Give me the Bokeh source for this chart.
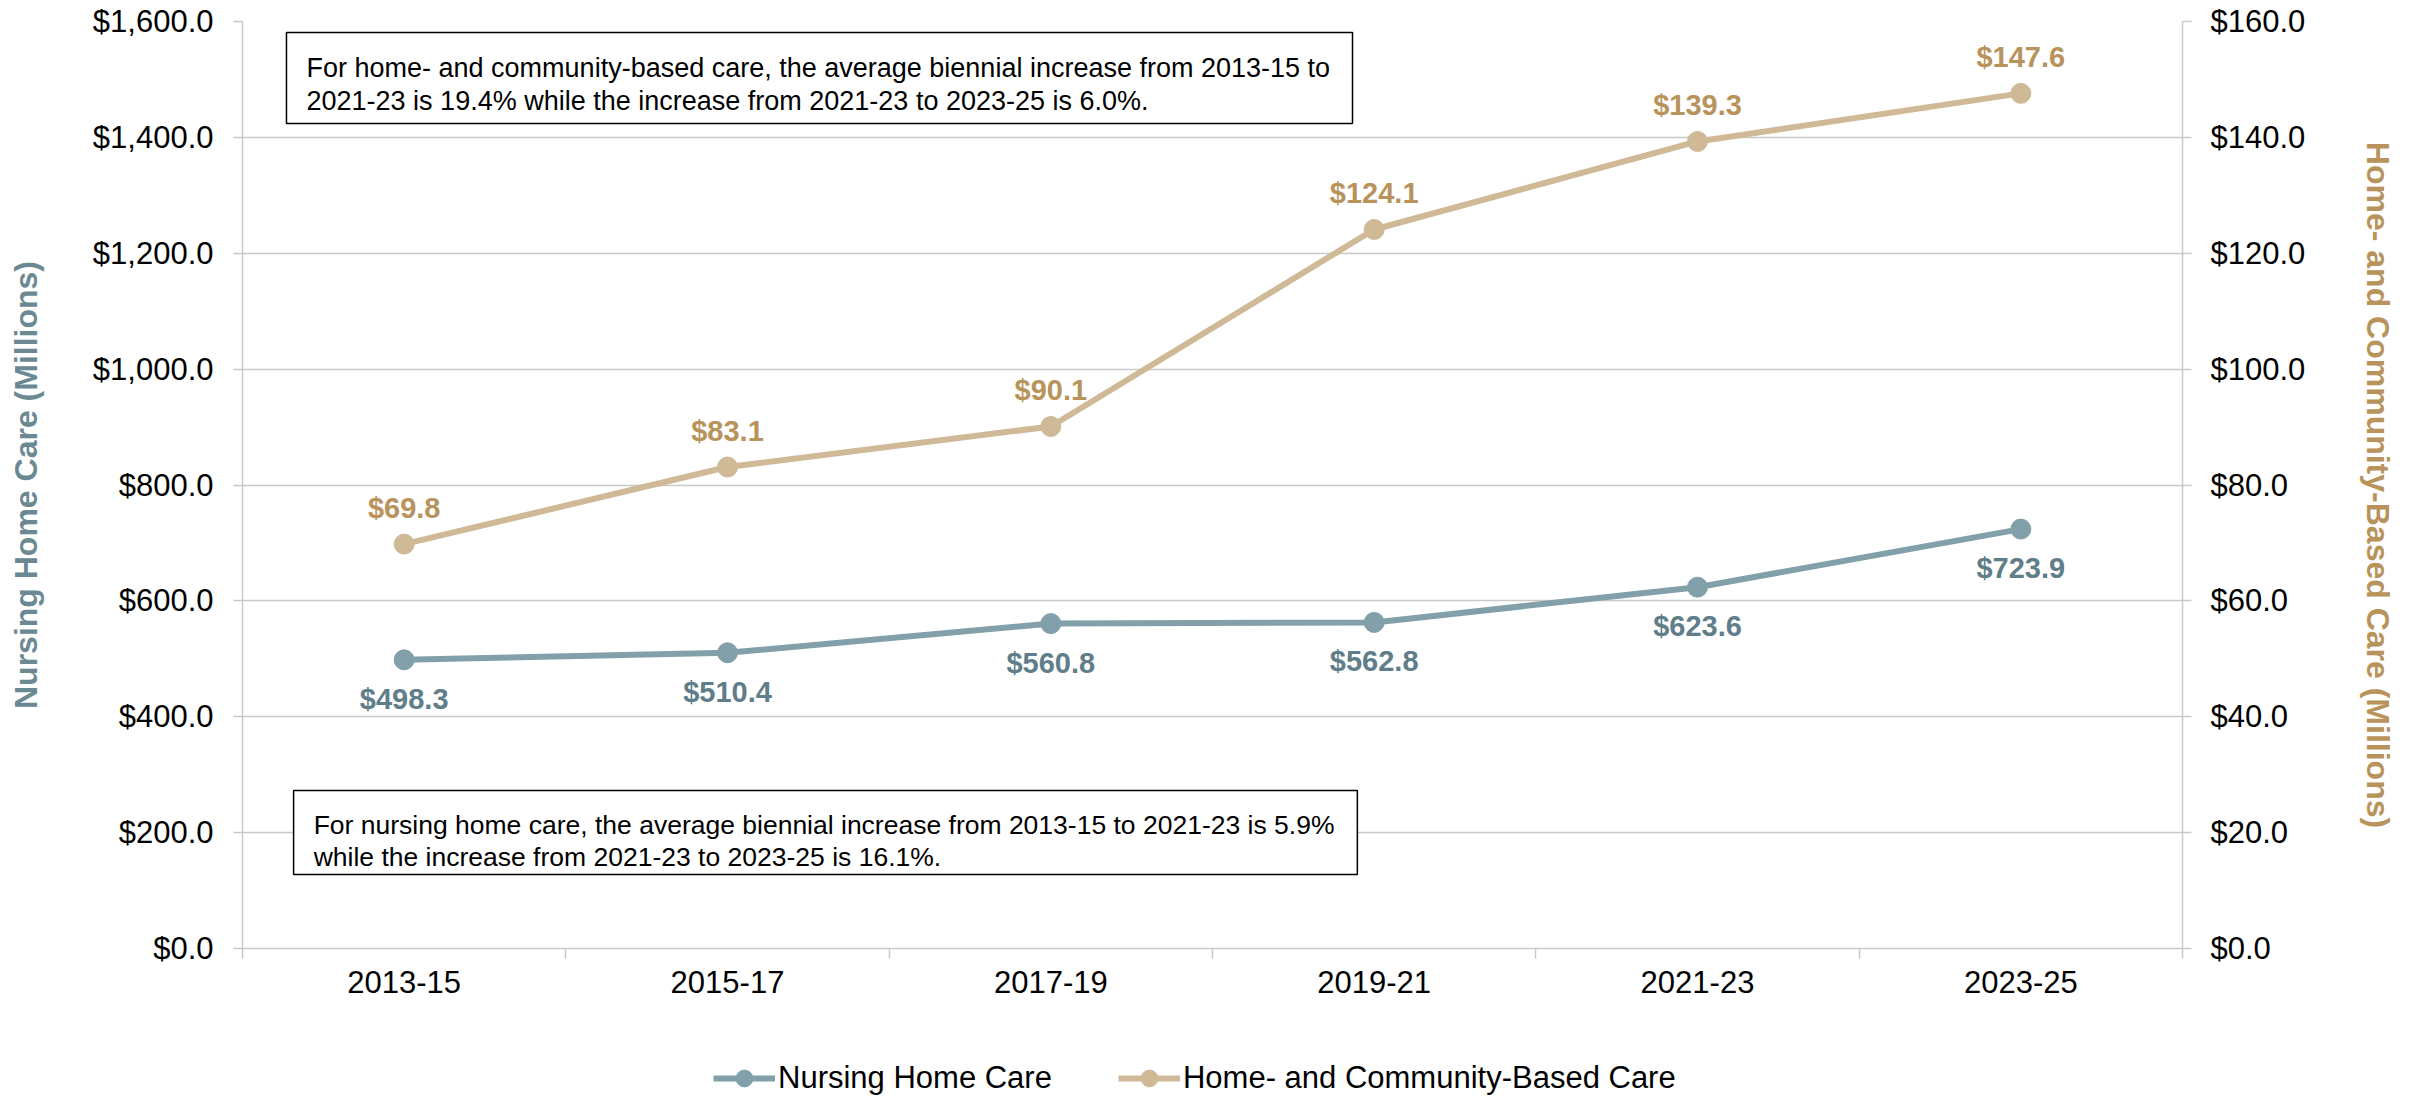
from bokeh.plotting import figure
from bokeh.layouts import column
from bokeh.models import (Range1d, LinearAxis, FixedTicker, NumeralTickFormatter,
                          BoxAnnotation, Label, Legend, LegendItem, ColumnDataSource, LabelSet)
from bokeh.core.properties import value
from bokeh.embed import file_html
from bokeh.resources import INLINE

# ---------------- data ----------------
periods = ["2013-15", "2015-17", "2017-19", "2019-21", "2021-23", "2023-25"]
nursing = [498.3, 510.4, 560.8, 562.8, 623.6, 723.9]
hcbc = [69.8, 83.1, 90.1, 124.1, 139.3, 147.6]
left_ticks = [0, 200, 400, 600, 800, 1000, 1200, 1400, 1600]
right_ticks = [0, 20, 40, 60, 80, 100, 120, 140, 160]
series_names = ["Nursing Home Care", "Home- and Community-Based Care"]
note_hcbc = ["For home- and community-based care, the average biennial increase from 2013-15 to",
             "2021-23 is 19.4% while the increase from 2021-23 to 2023-25 is 6.0%."]
note_nursing = ["For nursing home care, the average biennial increase from 2013-15 to 2021-23 is 5.9%",
                "while the increase from 2021-23 to 2023-25 is 16.1%."]

# ---------------- styles ----------------
FONT = "Liberation Sans"
GRID = "#C9C9C9"
NH_LINE = "#82A0A9"
NH_TEXT = "#5F7E89"
HC_LINE = "#CFB997"
HC_TEXT = "#B8935B"
W = 2423
MAIN_H = 1029
LEG_H = 70
BL, BR = 242, 241

xs = [i + 0.5 for i in range(len(periods))]

p = figure(width=W, height=MAIN_H, output_backend="svg", toolbar_location=None,
           x_range=Range1d(0, len(periods)), y_range=Range1d(0, 1600),
           min_border_left=BL, min_border_right=BR, min_border_top=21, min_border_bottom=81,
           outline_line_color=None, y_axis_location=None, x_axis_location=None)
p.extra_y_ranges = {"hcbc": Range1d(0, 160)}

# grid
p.xgrid.grid_line_color = None
p.ygrid.grid_line_color = GRID
p.ygrid.grid_line_width = 1.5
p.ygrid.ticker = FixedTicker(ticks=left_ticks)

def style_axis(ax, size="31px"):
    ax.axis_line_color = GRID
    ax.axis_line_width = 1.5
    ax.major_tick_line_color = GRID
    ax.major_tick_line_width = 1.5
    ax.major_tick_in = 0
    ax.major_tick_out = 9
    ax.minor_tick_line_color = None
    ax.major_label_text_font = FONT
    ax.major_label_text_font_size = size
    ax.major_label_text_color = "#000000"
    ax.axis_label_text_font = FONT
    ax.axis_label_text_font_size = "32px"
    ax.axis_label_text_font_style = "bold"

# bottom axis
xax = LinearAxis(ticker=FixedTicker(ticks=xs, minor_ticks=list(range(len(periods) + 1))),
                 major_label_overrides={x: lab for x, lab in zip(xs, periods)})
style_axis(xax)
xax.major_tick_line_color = None
xax.major_tick_out = 10
xax.minor_tick_line_color = GRID
xax.minor_tick_line_width = 1.5
xax.minor_tick_in = 0
xax.minor_tick_out = 10
xax.major_label_standoff = 12
p.add_layout(xax, "below")

# left axis
lax = LinearAxis(ticker=FixedTicker(ticks=left_ticks),
                 formatter=NumeralTickFormatter(format="$0,0.0"),
                 axis_label="Nursing Home Care (Millions)")
style_axis(lax)
lax.major_label_standoff = 20
lax.axis_label_standoff = 46
lax.axis_label_text_color = "#6B8993"
p.add_layout(lax, "left")

# right axis
rax = LinearAxis(y_range_name="hcbc", ticker=FixedTicker(ticks=right_ticks),
                 formatter=NumeralTickFormatter(format="$0,0.0"),
                 axis_label="Home- and Community-Based Care (Millions)")
style_axis(rax)
rax.major_label_standoff = 19
rax.axis_label_standoff = 52
rax.axis_label_text_color = "#B8935B"
p.add_layout(rax, "right")

# series
p.line(xs, nursing, line_color=NH_LINE, line_width=6)
p.scatter(xs, nursing, size=20, fill_color=NH_LINE, line_color=NH_LINE)
p.line(xs, hcbc, line_color=HC_LINE, line_width=6, y_range_name="hcbc")
p.scatter(xs, hcbc, size=20, fill_color=HC_LINE, line_color=HC_LINE, y_range_name="hcbc")

src_nh = ColumnDataSource(dict(x=xs, y=nursing, t=["$%.1f" % v for v in nursing]))
src_hc = ColumnDataSource(dict(x=xs, y=hcbc, t=["$%.1f" % v for v in hcbc]))
p.add_layout(LabelSet(x="x", y="y", text="t", source=src_nh, y_offset=-39,
                      text_align="center", text_baseline="middle",
                      text_font=value(FONT), text_font_size=value("29px"),
                      text_font_style="bold", text_color=NH_TEXT))
p.add_layout(LabelSet(x="x", y="y", text="t", source=src_hc, y_offset=36, y_range_name="hcbc",
                      text_align="center", text_baseline="middle",
                      text_font=value(FONT), text_font_size=value("29px"),
                      text_font_style="bold", text_color=HC_TEXT))

# note boxes
def note(left, right, bottom, top, tx, ys, lines, size):
    p.add_layout(BoxAnnotation(left=left, right=right, bottom=bottom, top=top,
                               fill_color="white", fill_alpha=1.0,
                               line_color="#000000", line_width=1.5, line_alpha=1.0))
    for yy, line in zip(ys, lines):
        p.add_layout(Label(x=tx, y=yy, text=line, text_font=FONT, text_font_size=size,
                           text_color="#000000", text_baseline="alphabetic", text_align="left"))

note(0.136, 3.433, 1423.9, 1581.0, 0.198, [1518.9, 1463.6], note_hcbc, "27px")
note(0.158, 3.448, 127.7, 272.7, 0.220, [212.3, 157.1], note_nursing, "26.5px")

# ---------------- legend strip (same series, drawn outside its view) ----------------
lg = figure(width=W, height=LEG_H, output_backend="svg", toolbar_location=None,
            x_range=Range1d(0, len(periods)), y_range=Range1d(-2, -1),
            min_border_left=BL, min_border_right=BR, min_border_top=0, min_border_bottom=0,
            outline_line_color=None, x_axis_location=None, y_axis_location=None)
lg.xgrid.visible = False
lg.ygrid.visible = False
r1 = lg.line(xs, nursing, line_color=NH_LINE, line_width=6)
d1 = lg.scatter(xs, nursing, size=20, fill_color=NH_LINE, line_color=NH_LINE)
r2 = lg.line(xs, hcbc, line_color=HC_LINE, line_width=6)
d2 = lg.scatter(xs, hcbc, size=20, fill_color=HC_LINE, line_color=HC_LINE)
legend = Legend(items=[LegendItem(label=series_names[0], renderers=[r1, d1]),
                       LegendItem(label=series_names[1], renderers=[r2, d2])],
                orientation="horizontal", location=(713 - BL, 0),
                label_text_font=FONT, label_text_font_size="31px", label_text_color="#000000",
                glyph_width=62, glyph_height=42, label_standoff=3, spacing=66,
                padding=0, margin=0, border_line_color=None, background_fill_alpha=0)
lg.add_layout(legend)

layout = column(p, lg, spacing=0)
open("out.html", "w").write(file_html(layout, INLINE))
